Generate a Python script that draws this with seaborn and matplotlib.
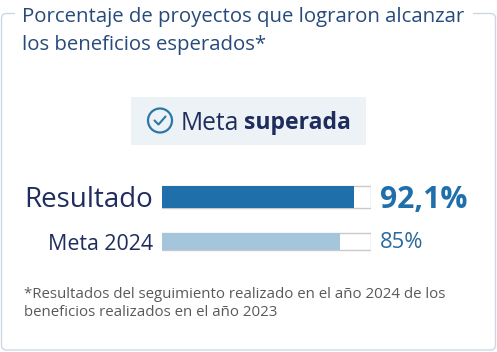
import matplotlib
matplotlib.use('Agg')
import matplotlib.pyplot as plt
from matplotlib.patches import Circle, FancyBboxPatch, Rectangle
import pandas as pd
import seaborn as sns

sns.set_theme(style='white')
plt.rcParams['font.family'] = ['Open Sans', 'DejaVu Sans']

categorias = ['Resultado', 'Meta 2024']
valores = [92.1, 85]
etiquetas = ['92,1%', '85%']
total = [100, 100]
titulo = 'Porcentaje de proyectos que lograron alcanzar\nlos beneficios esperados*'
nota = '*Resultados del seguimiento realizado en el año 2024 de los\nbeneficios realizados en el año 2023'

df = pd.DataFrame({'categoria': categorias, 'valor': valores, 'total': total})

W, H = 497, 352
fig = plt.figure(figsize=(W / 100, H / 100), dpi=100, facecolor='white')

# capa de fondo en pixeles
bg = fig.add_axes([0, 0, 1, 1])
bg.set_xlim(0, W)
bg.set_ylim(H, 0)
bg.axis('off')

bg.add_patch(FancyBboxPatch((1.5, 13.5), 494, 336.5, boxstyle='round,pad=0,rounding_size=5',
                            fc='white', ec='#cdd7e2', lw=1))
bg.add_patch(Rectangle((15, 8), 458, 12, fc='white', ec='none'))
bg.text(22, 17, titulo.split('\n')[0], fontsize=14.7, color='#264a7c', va='center')
bg.text(22, 45, titulo.split('\n')[1], fontsize=14.7, color='#264a7c', va='center')

# badge
bg.add_patch(Rectangle((131, 97), 235, 48, fc='#edf2f7', ec='none'))
bg.add_patch(Circle((160, 120.5), 12, fc='none', ec='#2a77a8', lw=1.6))
bg.plot([154.5, 158.5, 165.5], [120.5, 124.5, 116.5], color='#2a77a8', lw=1.5)
bg.text(181, 123, 'Meta', fontsize=17.7, color='#1f2d5c', va='center')
bg.text(244, 123, 'superada', fontsize=16.6, color='#1f2d5c', va='center', fontweight='bold')

bg.text(24, 295, nota.split('\n')[0], fontsize=10.85, color='#595959', va='center')
bg.text(24, 313, nota.split('\n')[1], fontsize=10.85, color='#595959', va='center')

# barras
ax = fig.add_axes([161.5 / W, 1 - 263.5 / H, 209.5 / W, 88.5 / H])
ax.patch.set_alpha(0)
anchos = [0.506, 0.382]
colores = ['#1f6fab', '#a5c5dc']
for i, cat in enumerate(categorias):
    fila = df[df['categoria'] == cat]
    sns.barplot(data=fila, y='categoria', x='total', order=categorias, color='white',
                width=anchos[i], saturation=1, edgecolor='#c9c9c9', linewidth=1, ax=ax)
    sns.barplot(data=fila, y='categoria', x='valor', order=categorias, color=colores[i],
                width=anchos[i], saturation=1, linewidth=0, ax=ax)

ax.set_xlim(0, 100)
ax.set_ylim(1.494, -0.494)
ax.set_xlabel('')
ax.set_ylabel('')
ax.set_xticks([])
sns.despine(ax=ax, left=True, bottom=True)
ax.tick_params(axis='y', length=0, pad=6)
labs = ax.get_yticklabels()
labs[0].set_fontsize(20)
labs[1].set_fontsize(15.4)
for lab in labs:
    lab.set_color('#1f2d5c')

ax.text(104.3, 0.07, etiquetas[0], fontsize=21.7, fontweight='bold', color='#1f6fab', va='center')
ax.text(104.3, 1.03, etiquetas[1], fontsize=15.8, color='#2a6a9e', va='center')

fig.savefig('out.png', dpi=100)
